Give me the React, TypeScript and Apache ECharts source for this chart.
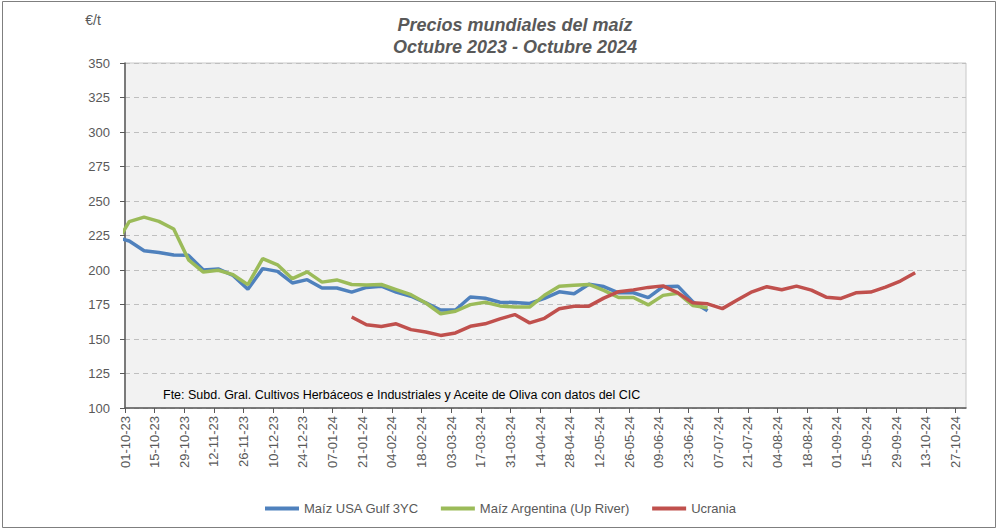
import React, { useEffect, useRef } from "react";
import * as echarts from "echarts";

const FONT = "Liberation Sans";

const fechas = [
  "26-09-23", "03-10-23", "10-10-23", "17-10-23", "24-10-23", "31-10-23", "07-11-23", "14-11-23",
  "21-11-23", "28-11-23", "05-12-23", "12-12-23", "19-12-23", "26-12-23", "02-01-24", "09-01-24",
  "16-01-24", "23-01-24", "30-01-24", "06-02-24", "13-02-24", "20-02-24", "27-02-24", "05-03-24",
  "12-03-24", "19-03-24", "26-03-24", "02-04-24", "09-04-24", "16-04-24", "23-04-24", "30-04-24",
  "07-05-24", "14-05-24", "21-05-24", "28-05-24", "04-06-24", "11-06-24", "18-06-24", "25-06-24",
  "02-07-24", "09-07-24", "16-07-24", "23-07-24", "30-07-24", "06-08-24", "13-08-24", "20-08-24",
  "27-08-24", "03-09-24", "10-09-24", "17-09-24", "24-09-24", "01-10-24", "08-10-24",
];

const maizUSA = [
  224, 221, 214, 212.7, 210.8, 210.6, 200, 200.8, 196, 186, 201, 199, 190.6, 193, 187, 187,
  184, 187.4, 188.3, 184, 181, 176.2, 171, 171, 180.4, 179.5, 176.6, 176.5, 175.8, 179.5,
  184.2, 182.8, 189.6, 188, 183.5, 183.5, 180, 187.9, 188.3, 177, 170.5,
];

const maizArgentina = [
  217, 235, 238.3, 235.2, 229.7, 207.4, 198.5, 199.8, 196.6, 189.4, 208.2, 203.8, 193.7, 198.6,
  191.2, 192.8, 189.5, 189.2, 189.5, 185.8, 182.1, 176.1, 168.3, 170.1, 174.9, 176.6, 174, 173.2,
  173.1, 181.7, 188.2, 189, 189.5, 185.2, 180.1, 180.1, 174.7, 181.6, 183.2, 174.3, 172.6,
];

const ucrania = [
  null, null, null, null, null, null, null, null, null, null, null, null, null, null, null, null,
  165.9, 160.3, 159.1, 161, 156.8, 155.1, 152.6, 154.4, 159.2, 161, 164.6, 167.7, 161.7, 165,
  171.9, 173.8, 173.8, 179.6, 184.3, 185.6, 187.4, 188.5, 183.4, 176.2, 175.5, 172, 178.2, 184.2,
  187.9, 185.7, 188.3, 185.4, 180.3, 179.4, 183.5, 184, 187.6, 192, 198,
];

const xTickLabels = [
  "01-10-23", "15-10-23", "29-10-23", "12-11-23", "26-11-23", "10-12-23", "24-12-23", "07-01-24",
  "21-01-24", "04-02-24", "18-02-24", "03-03-24", "17-03-24", "31-03-24", "14-04-24", "28-04-24",
  "12-05-24", "26-05-24", "09-06-24", "23-06-24", "07-07-24", "21-07-24", "04-08-24", "18-08-24",
  "01-09-24", "15-09-24", "29-09-24", "13-10-24", "27-10-24",
];

const xAxisEnd = "01-11-24";

const seriesNames = ["Maíz USA Gulf 3YC", "Maíz Argentina (Up River)", "Ucrania"];
const seriesColors = ["#4F81BD", "#9BBB59", "#C0504D"];

const dayOf = (s: string) => {
  const [d, m, y] = s.split("-").map(Number);
  return (Date.UTC(2000 + y, m - 1, d) - Date.UTC(2023, 9, 1)) / 86400000;
};

const toData = (arr: (number | null)[]) =>
  fechas
    .map((f, i) => [dayOf(f), arr[i] ?? null])
    .filter((p) => p[1] !== null && p[1] !== undefined);

export default function App() {
  const ref = useRef<HTMLDivElement>(null);

  useEffect(() => {
    if (!ref.current) return;
    const chart = echarts.init(ref.current, undefined, { renderer: "svg" });
    const tickValues = xTickLabels.map(dayOf);
    const labelMap: Record<number, string> = {};
    xTickLabels.forEach((l) => (labelMap[dayOf(l)] = l));

    chart.setOption({
      animation: false,
      grid: {
        left: 125,
        right: 36,
        top: 63,
        bottom: 121,
        show: true,
        backgroundColor: "#F2F2F2",
        borderColor: "#C8C8C8",
        borderWidth: 1,
      },
      legend: {
        data: seriesNames,
        left: 260,
        top: 497,
        icon: "rect",
        itemWidth: 34,
        itemHeight: 4,
        itemGap: 22,
        textStyle: { fontFamily: FONT, fontSize: 13, color: "#595959" },
      },
      xAxis: {
        type: "value",
        min: 0,
        max: dayOf(xAxisEnd),
        interval: 14,
        axisLine: { show: true, lineStyle: { color: "#595959", width: 1.5 } },
        axisTick: {
          show: true,
          length: 5,
          customValues: tickValues,
          lineStyle: { color: "#595959", width: 1 },
        },
        axisLabel: {
          customValues: tickValues,
          rotate: 90,
          margin: 8,
          fontFamily: FONT,
          fontSize: 13,
          color: "#595959",
          formatter: (v: number) => labelMap[Math.round(v)] ?? "",
        },
        splitLine: { show: false },
      },
      yAxis: {
        type: "value",
        min: 100,
        max: 350,
        interval: 25,
        axisLine: { show: true, lineStyle: { color: "#595959", width: 1.5 } },
        axisTick: { show: true, length: 5, lineStyle: { color: "#595959" } },
        axisLabel: { fontFamily: FONT, fontSize: 13, color: "#595959", margin: 15 },
        splitLine: {
          show: true,
          lineStyle: { color: "#BFBFBF", type: [5, 4], width: 1 },
        },
      },
      series: [maizUSA, maizArgentina, ucrania].map((arr, i) => ({
        name: seriesNames[i],
        type: "line",
        data: toData(arr),
        showSymbol: false,
        symbol: "none",
        color: seriesColors[i],
        lineStyle: { color: seriesColors[i], width: 3.5 },
        clip: true,
      })),
      graphic: [
        {
          type: "rect",
          shape: { x: 2.5, y: 1.5, width: 993, height: 526 },
          style: { fill: "none", stroke: "#7F7F7F", lineWidth: 1 },
          silent: true,
        },
        {
          type: "text",
          x: 515,
          y: 25,
          style: {
            text: "Precios mundiales del maíz",
            font: `italic bold 18px "${FONT}"`,
            fill: "#595959",
            textAlign: "center",
            textVerticalAlign: "middle",
          },
        },
        {
          type: "text",
          x: 515,
          y: 47,
          style: {
            text: "Octubre 2023 - Octubre 2024",
            font: `italic bold 18px "${FONT}"`,
            fill: "#595959",
            textAlign: "center",
            textVerticalAlign: "middle",
          },
        },
        {
          type: "text",
          x: 93,
          y: 20,
          style: {
            text: "€/t",
            font: `14px "${FONT}"`,
            fill: "#595959",
            textAlign: "center",
            textVerticalAlign: "middle",
          },
        },
        {
          type: "text",
          x: 163,
          y: 395,
          z: 10,
          style: {
            text: "Fte: Subd. Gral. Cultivos Herbáceos e Industriales y Aceite de Oliva con datos del CIC",
            font: `12.5px "${FONT}"`,
            fill: "#000000",
            textAlign: "left",
            textVerticalAlign: "middle",
          },
        },
      ],
    });
    return () => chart.dispose();
  }, []);

  return (
    <div
      ref={ref}
      style={{ position: "absolute", left: 0, top: 0, width: 1002, height: 529, background: "#fff" }}
    />
  );
}
